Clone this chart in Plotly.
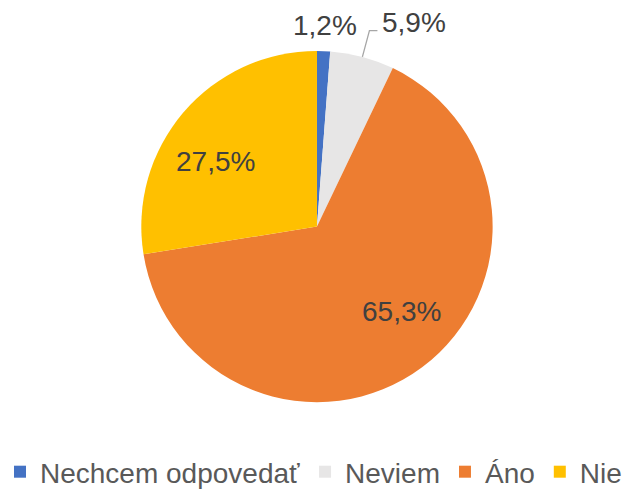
import math
import plotly.graph_objects as go

labels = ["Nechcem odpovedať", "Neviem", "Áno", "Nie"]
values = [1.2, 5.9, 65.3, 27.5]
text_labels = ["1,2%", "5,9%", "65,3%", "27,5%"]
colors = ["#4472C4", "#E7E6E6", "#ED7D31", "#FFC000"]

FONT = "Liberation Sans, Arial"
W, H = 633, 497
DOM_X = [0.2227, 0.7788]
DOM_Y = [0.1891, 0.8974]

fig = go.Figure(go.Pie(
    labels=labels,
    values=values,
    textinfo="none",
    sort=False,
    direction="clockwise",
    rotation=0,
    marker=dict(colors=colors, line=dict(color="white", width=0)),
    domain=dict(x=DOM_X, y=DOM_Y),
    automargin=False,
    showlegend=True,
))

# geometry of the pie in paper pixels (derived from the domain)
cx = (DOM_X[0] + DOM_X[1]) / 2 * W
cy = (1 - (DOM_Y[0] + DOM_Y[1]) / 2) * H
R = min((DOM_X[1] - DOM_X[0]) * W, (DOM_Y[1] - DOM_Y[0]) * H) / 2
total = sum(values)
label_font = dict(family=FONT, size=28, color="#404040")


def mid_angle(i):
    start = sum(values[:i])
    return (start + values[i] / 2) / total * 2 * math.pi


def px2paper(x, y):
    return x / W, 1 - y / H


def polar(angle, r):
    return cx + r * math.sin(angle), cy - r * math.cos(angle)


# inside labels (slices 2 and 3), placed like the spreadsheet's data labels
shift = math.radians(-8)
for i in (2, 3):
    lx, ly = polar(mid_angle(i) + shift, 0.685 * R)
    px, py = px2paper(lx, ly)
    fig.add_annotation(x=px, y=py, xref="paper", yref="paper", text=text_labels[i],
                       showarrow=False, xanchor="center", yanchor="middle",
                       font=label_font)

# label for slice 0 (outside, no leader)
lx, ly = polar(mid_angle(0), 1.145 * R)
px, py = px2paper(lx, ly)
fig.add_annotation(x=px, y=py, xref="paper", yref="paper", text=text_labels[0],
                   showarrow=False, xanchor="center", yanchor="middle",
                   font=label_font)

# label for slice 1 (outside, with elbow leader line)
a1 = mid_angle(1)
ex0, ey0 = polar(a1, R)
ex1, ey1 = polar(a1, 1.155 * R)
ex2, ey2 = ex1 + 8, ey1
p0 = px2paper(ex0, ey0)
p1 = px2paper(ex1, ey1)
p2 = px2paper(ex2, ey2)
fig.add_shape(type="path", xref="paper", yref="paper",
              path=f"M {p0[0]},{p0[1]} L {p1[0]},{p1[1]} L {p2[0]},{p2[1]}",
              line=dict(color="#A6A6A6", width=1.3))
tx, ty = px2paper(ex2 + 3, ey2 - 8)
fig.add_annotation(x=tx, y=ty, xref="paper", yref="paper", text=text_labels[1],
                   showarrow=False, xanchor="left", yanchor="middle",
                   font=label_font)

fig.update_layout(
    width=W, height=H,
    autosize=False,
    margin=dict(l=0, r=0, t=0, b=0),
    paper_bgcolor="white",
    plot_bgcolor="white",
    legend=dict(
        orientation="h",
        x=0.49, xanchor="center",
        y=0.0483, yanchor="middle",
        font=dict(family=FONT, size=28, color="#595959"),
        itemwidth=30,
        traceorder="normal",
    ),
)

fig.write_html(
    "out.html",
    config={"displayModeBar": False, "responsive": False},
    post_script="document.body.style.margin='0';",
)
